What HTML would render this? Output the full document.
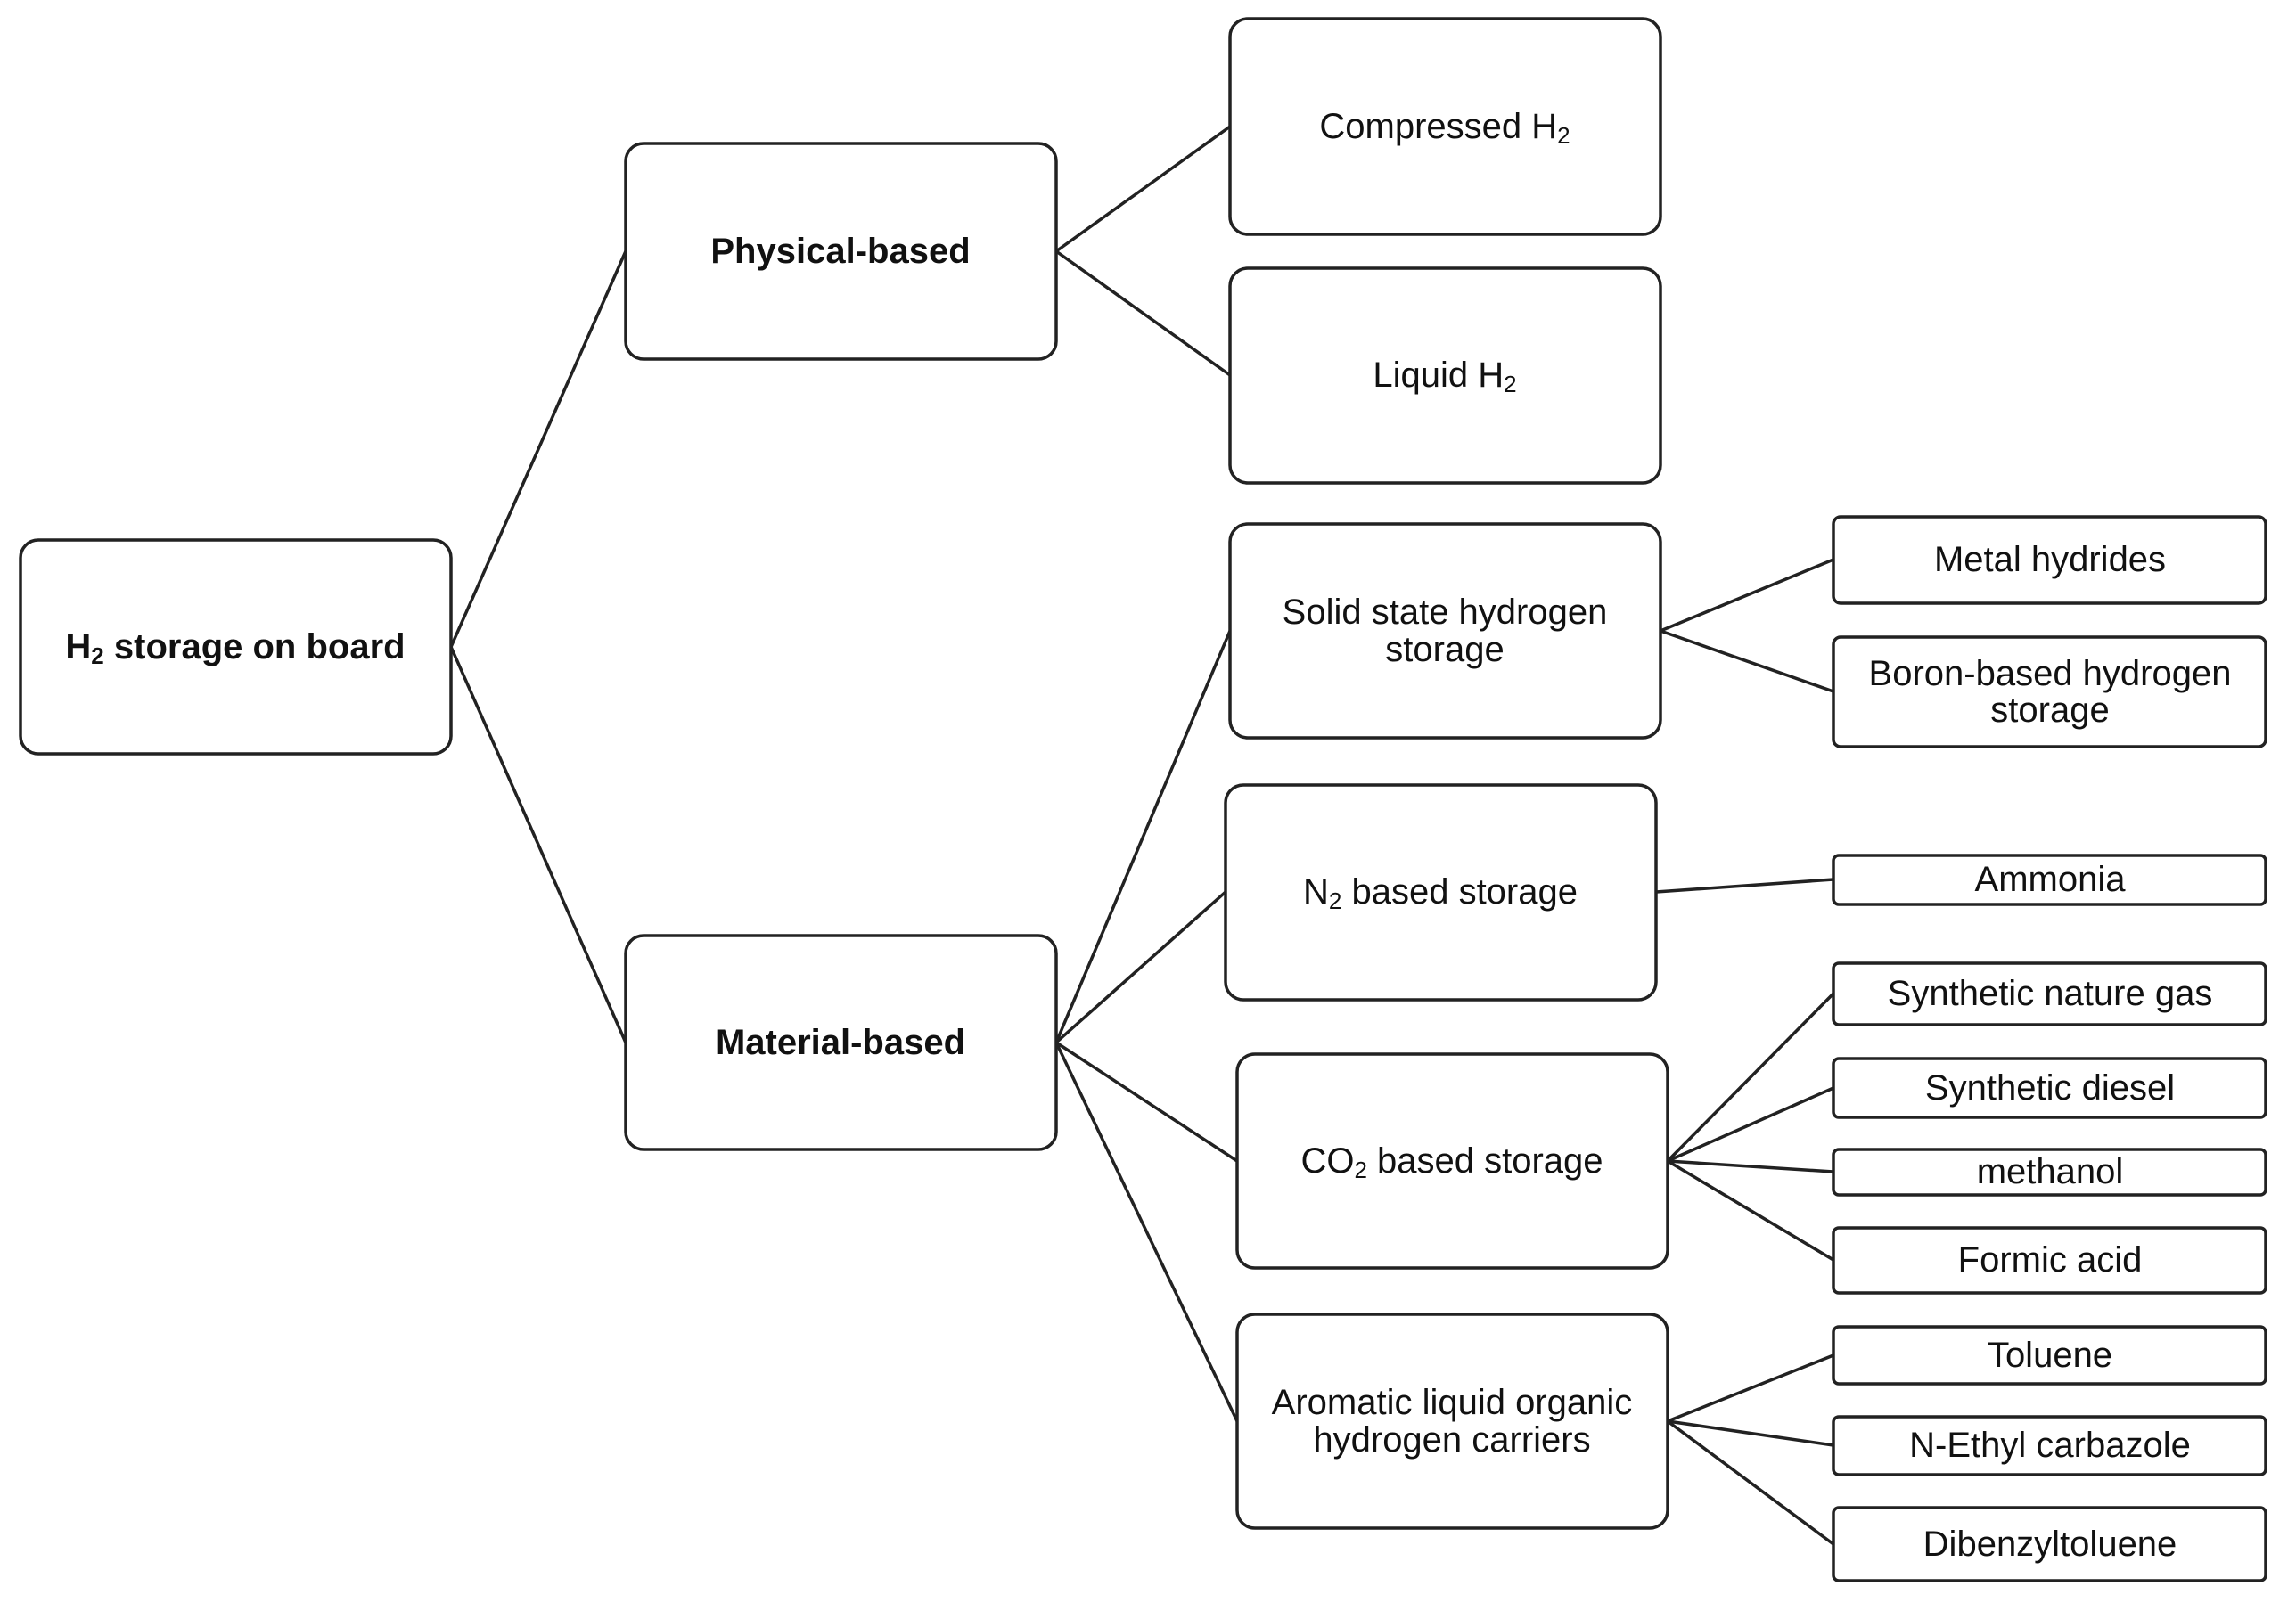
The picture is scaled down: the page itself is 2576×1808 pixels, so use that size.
<!DOCTYPE html>
<html><head><meta charset="utf-8"><style>
html,body{margin:0;padding:0;background:#fff;}
svg{display:block;}
text{font-family:"Liberation Sans",sans-serif;font-size:40px;fill:#111;text-anchor:middle;dominant-baseline:central;}
.b{font-weight:bold;}
rect{fill:#fff;stroke:#222;stroke-width:3.5;}
line{stroke:#222;stroke-width:3.5;}
</style></head><body>
<svg width="2576" height="1808" viewBox="0 0 2576 1808" xmlns="http://www.w3.org/2000/svg">
<line x1="506" y1="726" x2="702" y2="282"/>
<line x1="506" y1="726" x2="702" y2="1170"/>
<line x1="1185" y1="282" x2="1380" y2="142"/>
<line x1="1185" y1="282" x2="1380" y2="421"/>
<line x1="1185" y1="1170" x2="1380" y2="708"/>
<line x1="1185" y1="1170" x2="1375" y2="1001"/>
<line x1="1185" y1="1170" x2="1388" y2="1303"/>
<line x1="1185" y1="1170" x2="1388" y2="1595"/>
<line x1="1863" y1="708" x2="2057" y2="628"/>
<line x1="1863" y1="708" x2="2057" y2="776"/>
<line x1="1858" y1="1001" x2="2057" y2="987"/>
<line x1="1871" y1="1303" x2="2057" y2="1115"/>
<line x1="1871" y1="1303" x2="2057" y2="1221"/>
<line x1="1871" y1="1303" x2="2057" y2="1315"/>
<line x1="1871" y1="1303" x2="2057" y2="1414"/>
<line x1="1871" y1="1595" x2="2057" y2="1521"/>
<line x1="1871" y1="1595" x2="2057" y2="1622"/>
<line x1="1871" y1="1595" x2="2057" y2="1733"/>
<rect x="23" y="606" width="483" height="240" rx="20"/>
<text class="b" x="264" y="726">H<tspan font-size="26" dy="10">2</tspan><tspan dy="-10"> storage on board</tspan></text>
<rect x="702" y="161" width="483" height="242" rx="20"/>
<text class="b" x="943" y="282">Physical-based</text>
<rect x="702" y="1050" width="483" height="240" rx="20"/>
<text class="b" x="943" y="1170">Material-based</text>
<rect x="1380" y="21" width="483" height="242" rx="20"/>
<text x="1621" y="142">Compressed H<tspan font-size="26" dy="10">2</tspan></text>
<rect x="1380" y="301" width="483" height="241" rx="20"/>
<text x="1621" y="421">Liquid H<tspan font-size="26" dy="10">2</tspan></text>
<rect x="1380" y="588" width="483" height="240" rx="20"/>
<text x="1621" y="687">Solid state hydrogen</text>
<text x="1621" y="729">storage</text>
<rect x="1375" y="881" width="483" height="241" rx="20"/>
<text x="1616" y="1001">N<tspan font-size="26" dy="10">2</tspan><tspan dy="-10"> based storage</tspan></text>
<rect x="1388" y="1183" width="483" height="240" rx="20"/>
<text x="1629" y="1303">CO<tspan font-size="26" dy="10">2</tspan><tspan dy="-10"> based storage</tspan></text>
<rect x="1388" y="1475" width="483" height="240" rx="20"/>
<text x="1629" y="1574">Aromatic liquid organic</text>
<text x="1629" y="1616">hydrogen carriers</text>
<rect x="2057" y="580" width="485" height="97" rx="8"/>
<text x="2300" y="628">Metal hydrides</text>
<rect x="2057" y="715" width="485" height="123" rx="8"/>
<text x="2300" y="756">Boron-based hydrogen</text>
<text x="2300" y="797">storage</text>
<rect x="2057" y="960" width="485" height="55" rx="6"/>
<text x="2300" y="987">Ammonia</text>
<rect x="2057" y="1081" width="485" height="69" rx="6"/>
<text x="2300" y="1115">Synthetic nature gas</text>
<rect x="2057" y="1188" width="485" height="66" rx="6"/>
<text x="2300" y="1221">Synthetic diesel</text>
<rect x="2057" y="1290" width="485" height="51" rx="6"/>
<text x="2300" y="1315">methanol</text>
<rect x="2057" y="1378" width="485" height="73" rx="6"/>
<text x="2300" y="1414">Formic acid</text>
<rect x="2057" y="1489" width="485" height="64" rx="6"/>
<text x="2300" y="1521">Toluene</text>
<rect x="2057" y="1590" width="485" height="65" rx="6"/>
<text x="2300" y="1622">N-Ethyl carbazole</text>
<rect x="2057" y="1692" width="485" height="82" rx="6"/>
<text x="2300" y="1733">Dibenzyltoluene</text>
</svg>
</body></html>
